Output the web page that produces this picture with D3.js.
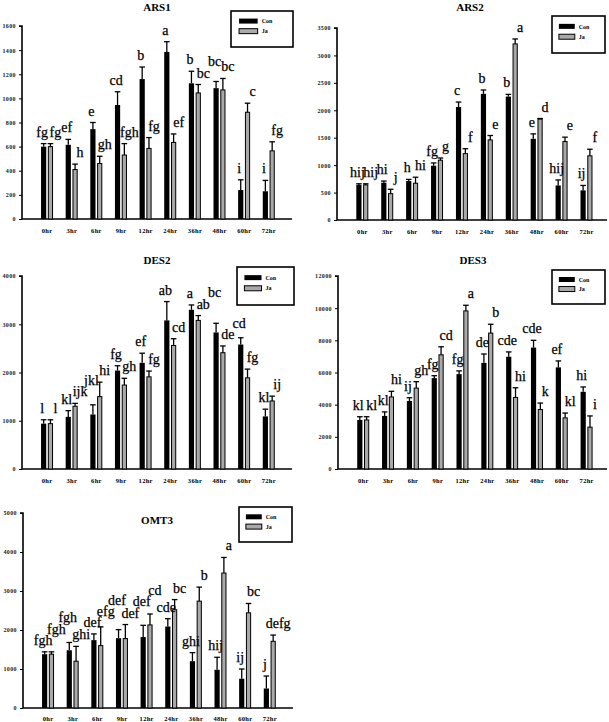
<!DOCTYPE html>
<html><head><meta charset="utf-8">
<script src="https://cdn.jsdelivr.net/npm/d3@7"></script>
<style>
html,body{margin:0;padding:0;background:#fff;}
svg{display:block;}
.tick text{font-family:"Liberation Serif","Times New Roman",serif;font-weight:bold;}
</style></head>
<body>
<svg id="chart" width="609" height="722"></svg>
<script>
// ---------- DATA ----------
const categories = ["0hr","3hr","6hr","9hr","12hr","24hr","36hr","48hr","60hr","72hr"];
const seriesNames = ["Con","Ja"];

const ars1Con      = [600, 615, 745, 945, 1160, 1385, 1125, 1085, 240, 230];
const ars1ConErr   = [25, 45, 55, 110, 100, 85, 100, 55, 85, 90];
const ars1Ja       = [600, 410, 460, 530, 585, 635, 1045, 1070, 885, 565];
const ars1JaErr    = [25, 45, 60, 95, 90, 70, 70, 95, 75, 75];
const ars1ConLetters = ["fg","ef","e","cd","b","a","b","bc","i","i"];
const ars1JaLetters  = ["fg","h","gh","fgh","fg","ef","bc","bc","c","fg"];
const ars1Ticks = [0,200,400,600,800,1000,1200,1400,1600];

const ars2Con      = [640, 680, 710, 990, 2060, 2300, 2250, 1480, 630, 540];
const ars2ConErr   = [20, 30, 30, 50, 90, 70, 40, 90, 100, 90];
const ars2Ja       = [640, 480, 670, 1090, 1210, 1460, 3210, 1840, 1430, 1170];
const ars2JaErr    = [20, 80, 110, 40, 90, 80, 90, 10, 80, 120];
const ars2ConLetters = ["hij","hi","h","fg","c","b","b","e","hij","ij"];
const ars2JaLetters  = ["hij","j","hi","g","f","e","a","d","e","f"];
const ars2Ticks = [0,500,1000,1500,2000,2500,3000,3500];

const des2Con      = [940, 1080, 1130, 2040, 2200, 3080, 3300, 2830, 2580, 1090];
const des2ConErr   = [80, 130, 200, 100, 200, 390, 100, 190, 140, 150];
const des2Ja       = [940, 1300, 1500, 1740, 1910, 2560, 3080, 2410, 1890, 1410];
const des2JaErr    = [80, 60, 300, 140, 120, 140, 100, 140, 180, 100];
const des2ConLetters = ["l","kl","jkl","fg","ef","ab","a","bc","cd","kl"];
const des2JaLetters  = ["l","ijk","hi","gh","fg","cd","ab","de","fg","ij"];
const des2Ticks = [0,1000,2000,3000,4000];

const des3Con      = [3050, 3300, 4230, 5650, 5900, 6600, 6980, 7550, 6320, 4800];
const des3ConErr   = [200, 250, 200, 150, 200, 550, 300, 450, 400, 300];
const des3Ja       = [3050, 4480, 5030, 7100, 9830, 8450, 4450, 3700, 3180, 2600];
const des3JaErr    = [200, 350, 400, 500, 350, 550, 600, 400, 300, 700];
const des3ConLetters = ["kl","kl","ij","fg","fg","de","cde","cde","ef","hi"];
const des3JaLetters  = ["kl","hi","gh","cd","a","b","hi","k","kl","i"];
const des3Ticks = [0,2000,4000,6000,8000,10000,12000];

const omt3Con      = [1380, 1480, 1740, 1790, 1820, 2090, 1200, 980, 750, 500];
const omt3ConErr   = [60, 200, 160, 220, 300, 200, 220, 320, 250, 320];
const omt3Ja       = [1380, 1200, 1600, 1780, 2130, 2520, 2740, 3460, 2440, 1710];
const omt3JaErr    = [60, 380, 480, 360, 280, 260, 360, 400, 240, 160];
const omt3ConLetters = ["fgh","fgh","def","def","def","cde","ghi","hij","ij","j"];
const omt3JaLetters  = ["fgh","ghi","efg","def","cd","bc","b","a","bc","defg"];
const omt3Ticks = [0,1000,2000,3000,4000,5000];

// ---------- DRAWING ----------
const svg = d3.select("#chart");
const SERIF = '"Liberation Serif","Times New Roman",serif';
const JA_FILL = "#a9a9a9";

function overlaps(a, b) {
  return a.x < b.x + b.w && b.x < a.x + a.w && a.y < b.y + b.h && b.y < a.y + a.h;
}

function panel(title, con, conErr, ja, jaErr, conL, jaL, ticks, L) {
  const g = svg.append("g");
  const x = d3.scalePoint().domain(categories).range([L.x0, L.x1]).padding(1);
  const y = d3.scaleLinear().domain([0, d3.max(ticks)]).range([L.bottom, L.top]);

  // y axis
  const ya = g.append("g").attr("transform", `translate(${L.x0},0)`)
    .call(d3.axisLeft(y).tickValues(ticks).tickSize(3).tickPadding(3).tickFormat(d3.format("d")));
  ya.select(".domain").attr("stroke-width", 1.6).attr("d", `M-3,${L.top}H0V${L.bottom}`);
  ya.selectAll(".tick line").attr("stroke-width", 1);
  ya.selectAll(".tick text").attr("font-size", 6).attr("letter-spacing", 0.4).attr("fill", "#222");

  // x axis
  const xa = g.append("g").attr("transform", `translate(0,${L.bottom})`)
    .call(d3.axisBottom(x).tickSize(0).tickPadding(L.labelPad));
  xa.select(".domain").attr("stroke-width", 1.6).attr("d", `M${L.x0},0H${L.axisEnd}`);
  xa.selectAll(".tick text").attr("font-size", 6.5).attr("letter-spacing", 0.3).attr("fill", "#000");

  const bw = 5.2;
  const conX = c => x(c) - 5.6;
  const jaX = c => x(c) + 1.2;

  const rows = categories.map((c, i) => ({c, i}));

  // bars
  g.selectAll(".con").data(rows).join("rect")
    .attr("x", d => conX(d.c)).attr("width", bw)
    .attr("y", d => y(con[d.i])).attr("height", d => L.bottom - y(con[d.i]))
    .attr("fill", "#000");
  g.selectAll(".ja").data(rows).join("rect")
    .attr("x", d => jaX(d.c) + 0.5).attr("width", bw - 1)
    .attr("y", d => y(ja[d.i])).attr("height", d => L.bottom - y(ja[d.i]))
    .attr("fill", JA_FILL).attr("stroke", "#000").attr("stroke-width", 1);

  // error bars (upper only)
  const obstacles = [];
  function err(vals, errs, xf) {
    rows.forEach(d => {
      const cx = xf(d.c) + bw / 2;
      const yt = y(vals[d.i] + errs[d.i]);
      g.append("line").attr("x1", cx).attr("x2", cx).attr("y1", y(vals[d.i])).attr("y2", yt)
        .attr("stroke", "#000").attr("stroke-width", 1.3);
      g.append("line").attr("x1", cx - 2.8).attr("x2", cx + 2.8).attr("y1", yt).attr("y2", yt)
        .attr("stroke", "#000").attr("stroke-width", 1.3);
    });
  }
  err(con, conErr, conX);
  err(ja, jaErr, jaX);

  // letters, placed in order; a letter that would collide with one already placed is lifted
  const placed = [];
  rows.forEach(d => {
    [[con, conErr, conL, conX, -1.5], [ja, jaErr, jaL, jaX, 5]].forEach(([vals, errs, labs, xf, dx]) => {
      const t = g.append("text")
        .attr("x", xf(d.c) + bw / 2 + dx)
        .attr("text-anchor", "middle")
        .attr("font-family", SERIF).attr("font-size", 14)
        .attr("fill", "#000").attr("stroke", "#000").attr("stroke-width", 0.25)
        .text(labs[d.i]);
      let yy = y(vals[d.i] + errs[d.i]) - 7;
      t.attr("y", yy);
      let bb = t.node().getBBox();
      let box = {x: bb.x + 0.8, y: bb.y + 2, w: bb.width - 1.6, h: bb.height - 4};
      let guard = 0;
      while (placed.some(p => overlaps(p, box)) && guard < 40) {
        yy -= 1; box.y -= 1; guard++;
      }
      t.attr("y", yy);
      placed.push(box);
    });
  });

  // title
  g.append("text").attr("x", L.tx).attr("y", L.ty).attr("text-anchor", "middle")
    .attr("font-family", SERIF).attr("font-weight", "bold").attr("font-size", 11)
    .text(title);

  // legend
  const lg = g.append("g").attr("transform", `translate(${L.lx},${L.ly})`);
  lg.append("rect").attr("width", L.lw).attr("height", L.lh)
    .attr("fill", "#fff").attr("stroke", "#000").attr("stroke-width", 1.6);
  const sw = L.lw * 0.3;
  seriesNames.forEach((s, i) => {
    const yy = L.lh * 0.28 + i * L.lh * 0.28;
    lg.append("rect").attr("x", L.lw * 0.13).attr("y", yy - 2.5).attr("width", sw).attr("height", 5)
      .attr("fill", i === 0 ? "#000" : JA_FILL).attr("stroke", "#000").attr("stroke-width", i === 0 ? 0 : 1);
    lg.append("text").attr("x", L.lw * 0.13 + sw + 4).attr("y", yy + 2.2)
      .attr("font-family", SERIF).attr("font-weight", "bold").attr("font-size", 6)
      .text(s);
  });
}

panel("ARS1", ars1Con, ars1ConErr, ars1Ja, ars1JaErr, ars1ConLetters, ars1JaLetters, ars1Ticks,
  {x0:22, x1:293, axisEnd:292, top:26, bottom:219, labelPad:9, tx:157, ty:11, lx:231, ly:11, lw:62, lh:36});
panel("ARS2", ars2Con, ars2ConErr, ars2Ja, ars2JaErr, ars2ConLetters, ars2JaLetters, ars2Ticks,
  {x0:337, x1:611, axisEnd:607, top:28, bottom:220, labelPad:9, tx:470, ty:11, lx:552, ly:16, lw:53, lh:37});
panel("DES2", des2Con, des2ConErr, des2Ja, des2JaErr, des2ConLetters, des2JaLetters, des2Ticks,
  {x0:22, x1:293, axisEnd:292, top:276, bottom:469, labelPad:9, tx:157, ty:264, lx:237, ly:267, lw:57, lh:38});
panel("DES3", des3Con, des3ConErr, des3Ja, des3JaErr, des3ConLetters, des3JaLetters, des3Ticks,
  {x0:338, x1:611, axisEnd:607, top:276, bottom:469, labelPad:9, tx:473, ty:264, lx:552, ly:270, lw:53, lh:34});
panel("OMT3", omt3Con, omt3ConErr, omt3Ja, omt3JaErr, omt3ConLetters, omt3JaLetters, omt3Ticks,
  {x0:23, x1:294, axisEnd:293, top:513, bottom:708, labelPad:8, tx:157, ty:524, lx:239, ly:507, lw:53, lh:35});
</script>
</body></html>
